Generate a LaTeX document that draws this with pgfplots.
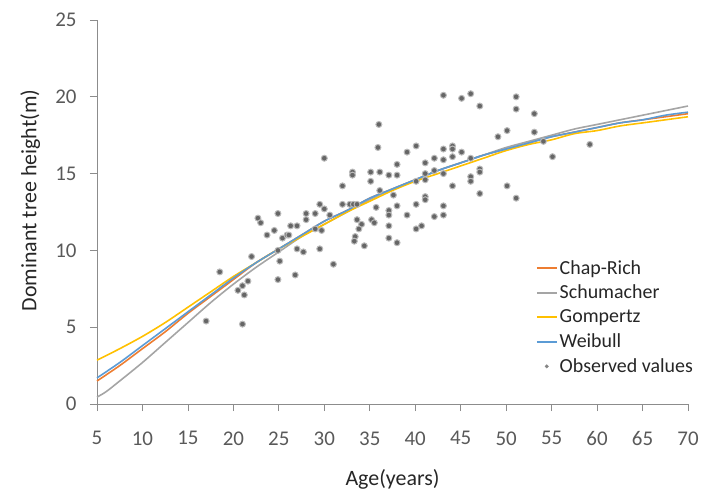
\documentclass[border=0pt]{standalone}
\usepackage{pgfplots}
\pgfplotsset{compat=1.18}
\usepackage{pgfplotstable}
\usepackage{fontspec}
\setmainfont{Carlito}
\definecolor{cOrange}{HTML}{ED7D31}
\definecolor{cGray}{HTML}{A5A5A5}
\definecolor{cGold}{HTML}{FFC000}
\definecolor{cBlue}{HTML}{5B9BD5}
\definecolor{axisgray}{HTML}{8C8C8C}
\definecolor{ticktext}{HTML}{595959}
\definecolor{labeltext}{HTML}{262626}
\definecolor{dotgray}{HTML}{666666}

\pgfplotstableread{
x y
5 1.5
7.5 2.5
10 3.6
12.5 4.7
15 5.9
17.5 7.0
20 8.1
22.5 9.2
25 10.1
27.5 11.0
30 11.9
32.5 12.6
35 13.4
37.5 14.0
40 14.6
42.5 15.2
45 15.7
47.5 16.2
50 16.6
52.5 17.0
55 17.4
57.5 17.7
60 18.0
62.5 18.3
65 18.5
67.5 18.7
70 18.9
}\chaprich

\pgfplotstableread{
x y
5 0.45
6 0.8
7.5 1.5
10 2.7
12.5 4.0
15 5.3
17.5 6.6
20 7.8
22.5 8.9
25 9.9
27.5 10.9
30 11.7
32.5 12.5
35 13.3
37.5 14.0
40 14.6
42.5 15.2
45 15.7
47.5 16.2
50 16.7
52.5 17.1
55 17.5
57.5 17.9
60 18.2
62.5 18.5
65 18.8
67.5 19.1
70 19.4
}\schumacher

\pgfplotstableread{
x y
5 2.85
7.5 3.6
10 4.4
12.5 5.3
15 6.3
17.5 7.3
20 8.3
22.5 9.2
25 10.1
27.5 10.9
30 11.7
32.5 12.5
35 13.2
37.5 13.9
40 14.5
42.5 15.0
45 15.5
47.5 16.0
50 16.5
52.5 16.9
55 17.2
57.5 17.6
60 17.8
62.5 18.1
65 18.3
67.5 18.5
70 18.7
}\gompertz

\pgfplotstableread{
x y
5 1.7
7.5 2.7
10 3.8
12.5 4.9
15 6.0
17.5 7.1
20 8.2
22.5 9.2
25 10.1
27.5 11.0
30 11.9
32.5 12.6
35 13.4
37.5 14.0
40 14.6
42.5 15.2
45 15.7
47.5 16.2
50 16.6
52.5 17.0
55 17.4
57.5 17.7
60 18.0
62.5 18.3
65 18.5
67.5 18.8
70 19.0
}\weibull

\pgfplotstableread{
x y
17.0 5.4
21.0 5.2
18.5 8.6
20.5 7.4
21.0 7.7
21.2 7.1
21.6 8.0
22.0 9.6
22.7 12.1
23.0 11.8
23.7 11.0
24.5 11.3
24.9 12.4
24.9 10.0
25.1 9.3
24.9 8.1
25.4 10.8
25.9 11.0
26.1 11.0
26.3 11.6
27.0 11.6
26.8 8.4
27.0 10.1
27.7 9.9
28.0 12.4
28.0 12.0
29.0 12.4
29.5 13.0
29.0 11.4
29.5 10.1
29.7 11.3
30.0 12.7
30.6 12.3
30.0 16.0
31.0 9.1
32.0 13.0
32.0 14.2
32.8 13.0
33.2 13.0
33.6 13.0
33.1 15.1
33.1 14.9
33.6 12.0
34.1 11.7
33.8 11.4
33.4 10.9
33.3 10.6
34.4 10.3
35.1 15.1
35.1 14.5
35.2 12.0
35.5 11.8
35.7 12.8
36.0 18.2
35.9 16.7
36.1 15.1
36.1 13.9
37.1 14.9
37.1 12.6
37.1 12.3
37.1 11.6
37.1 10.8
37.6 13.6
38.0 15.6
38.0 14.9
38.0 12.9
38.0 10.5
39.1 16.4
39.1 12.3
40.1 16.8
40.1 14.5
40.1 13.0
40.1 11.4
40.7 11.6
41.1 15.7
41.1 15.0
41.1 14.6
41.1 13.5
41.1 13.3
42.1 16.0
42.1 15.2
42.1 12.2
43.1 20.1
43.1 16.6
43.1 15.9
43.1 15.0
43.1 12.9
43.1 12.3
44.1 16.8
44.1 16.6
44.1 16.1
44.1 14.2
45.1 19.9
45.1 16.4
46.1 20.2
46.1 16.0
46.1 14.8
46.1 14.5
47.1 19.4
47.1 15.3
47.1 15.1
47.1 13.7
49.1 17.4
50.1 17.8
50.1 14.2
51.1 20.0
51.1 19.2
51.1 13.4
53.1 18.9
53.1 17.7
54.1 17.1
55.1 16.1
59.2 16.9
}\observed

\begin{document}
\begin{tikzpicture}
\useasboundingbox (-97bp,-94bp) rectangle (608bp,404bp);
\begin{axis}[
  at={(0,0)}, anchor=south west,
  scale only axis,
  width=591bp, height=384bp,
  xmin=5, xmax=70, ymin=0, ymax=25,
  xtick={5,10,...,70}, ytick={0,5,...,25},
  axis lines=left,
  axis line style={draw=axisgray, line width=0.8pt, -},
  tick style={draw=axisgray, line width=0.8pt},
  tick align=outside,
  major tick length=7bp,
  /pgf/number format/assume math mode=true,
  tick label style={font=\fontsize{21}{24}\selectfont, text=ticktext},
  xticklabel style={yshift=-17bp},
  yticklabel style={xshift=-10bp},
  xlabel={Age(years)},
  ylabel={Dominant tree height(m)},
  label style={font=\fontsize{22}{26}\selectfont, text=labeltext},
  xlabel style={at={(axis description cs:0.5,0)}, anchor=center, yshift=-75bp},
  ylabel style={at={(axis description cs:-0.113,0.53)}, anchor=center, rotate=0},
  legend style={at={(rel axis cs:0.737,0.385)}, anchor=north west, draw=none, fill=none,
    font=\fontsize{20}{22}\selectfont\color{labeltext}, row sep=5.5bp,
    /tikz/every even column/.append style={column sep=2bp}},
  legend cell align=left,
  clip=false,
]
\addplot[color=cOrange, line width=1.6pt, smooth, no marks,
  legend image code/.code={\draw[draw=cOrange, line width=2pt] (0bp,0bp) -- (20bp,0bp);}] table[x=x,y=y] {\chaprich};
\addlegendentry{Chap-Rich}
\addplot[color=cGray, line width=1.6pt, smooth, no marks,
  legend image code/.code={\draw[draw=cGray, line width=2pt] (0bp,0bp) -- (20bp,0bp);}] table[x=x,y=y] {\schumacher};
\addlegendentry{Schumacher}
\addplot[color=cGold, line width=1.6pt, smooth, no marks,
  legend image code/.code={\draw[draw=cGold, line width=2pt] (0bp,0bp) -- (20bp,0bp);}] table[x=x,y=y] {\gompertz};
\addlegendentry{Gompertz}
\addplot[color=cBlue, line width=1.6pt, smooth, no marks,
  legend image code/.code={\draw[draw=cBlue, line width=2pt] (0bp,0bp) -- (20bp,0bp);}] table[x=x,y=y] {\weibull};
\addlegendentry{Weibull}
\addplot[only marks, mark=*, mark size=3pt, mark options={fill=dotgray, draw=dotgray!45, line width=1pt},
  legend image code/.code={\fill[dotgray!80] (10bp,0bp) circle (1.8bp);}] table[x=x,y=y] {\observed};
\addlegendentry{Observed values}
\end{axis}
\end{tikzpicture}
\end{document}
